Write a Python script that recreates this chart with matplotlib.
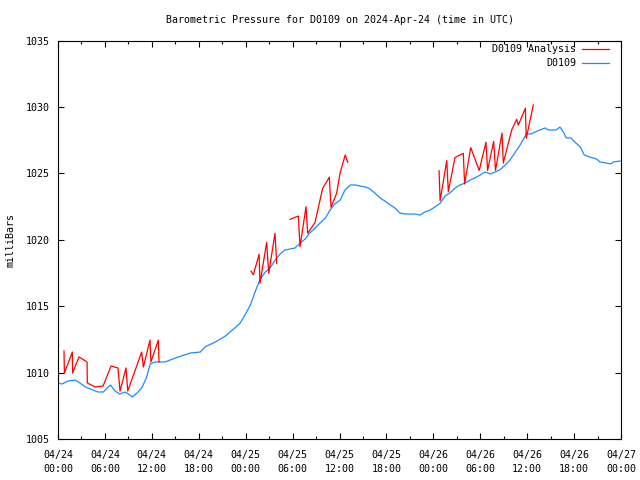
import numpy as np
import matplotlib
matplotlib.use('Agg')
import matplotlib.pyplot as plt
import matplotlib.dates as mdates
from matplotlib.lines import Line2D

# hours after 2024-04-24 00:00 UTC, pressure in mbar
obs_hours = [0.0, 0.5, 1.3, 2.2, 2.8, 3.5, 4.1, 5.1, 5.8, 6.3, 6.7, 7.3, 7.9, 8.6, 9.2, 9.5,
             10.1, 10.7, 11.3, 11.8, 12.4, 13.7, 15.0, 16.9, 18.2, 18.8, 20.1, 21.4, 22.6, 23.3,
             23.9, 24.6, 25.2, 25.8, 26.5, 27.1, 27.8, 28.4, 29.0, 29.7, 30.3, 31.0, 31.6, 32.2,
             32.9, 33.5, 34.2, 34.8, 35.4, 36.1, 36.7, 37.4, 38.0, 38.6, 39.3, 39.9, 40.5, 41.2,
             41.8, 42.5, 43.1, 43.7, 44.4, 45.0, 45.7, 46.3, 46.9, 47.6, 48.2, 48.9, 49.5, 50.1,
             50.8, 51.4, 52.1, 52.7, 53.3, 54.0, 54.6, 55.3, 55.9, 56.5, 57.2, 57.8, 58.5, 59.1,
             59.9, 60.5, 61.3, 62.3, 62.7, 63.7, 64.2, 64.7, 65.0, 65.6, 66.1, 66.8, 67.3, 68.0,
             68.9, 69.3, 70.1, 70.7, 71.0, 71.9]
obs_mbar = [1009.22, 1009.14, 1009.37, 1009.44, 1009.22, 1008.92, 1008.77, 1008.54, 1008.54,
            1008.84, 1009.07, 1008.61, 1008.39, 1008.54, 1008.31, 1008.16, 1008.46, 1008.84,
            1009.59, 1010.65, 1010.80, 1010.80, 1011.10, 1011.47, 1011.55, 1011.93, 1012.30,
            1012.75, 1013.36, 1013.73, 1014.33, 1015.09, 1016.07, 1016.97, 1017.57, 1017.87,
            1018.48, 1018.93, 1019.23, 1019.31, 1019.38, 1019.76, 1020.06, 1020.51, 1020.89,
            1021.26, 1021.64, 1022.24, 1022.70, 1023.00, 1023.75, 1024.13, 1024.13, 1024.05,
            1023.98, 1023.83, 1023.53, 1023.15, 1022.92, 1022.62, 1022.39, 1022.02, 1021.94,
            1021.94, 1021.94, 1021.86, 1022.09, 1022.24, 1022.47, 1022.77, 1023.30, 1023.52,
            1023.90, 1024.13, 1024.28, 1024.50, 1024.65, 1024.88, 1025.11, 1024.96, 1025.11,
            1025.26, 1025.63, 1026.01, 1026.61, 1027.14, 1027.97, 1027.97, 1028.19, 1028.42,
            1028.27, 1028.27, 1028.49, 1028.04, 1027.67, 1027.67, 1027.36, 1026.99, 1026.39,
            1026.23, 1026.08, 1025.86, 1025.78, 1025.71, 1025.86, 1025.93]

# analysis (nan = gap)
ana_hours = [0.77, 0.81, 1.83, 1.87, 2.69, 3.71, 3.75, 4.73, 5.76, 6.78, 7.67, 7.93, 8.70, 8.91,
             10.70, 10.91, 11.77, 11.89, 12.83, 12.92, np.nan,
             24.68, 24.98, 25.71, 25.83, 26.69, 26.95, 27.75, 27.97, np.nan,
             29.67, 30.73, 30.95, 31.72, 31.93, 32.87, 33.85, 34.70, 34.91, 35.64, 36.07, 36.74,
             37.05, np.nan,
             48.73, 48.86, 49.71, 49.92, 50.77, 51.84, 52.00, 52.78, 53.87, 54.74, 54.93, 55.72,
             55.95, 56.78, 56.95, 58.02, 58.66, 58.87, 59.77, 59.89, 60.79]
ana_mbar = [1011.63, 1009.97, 1011.55, 1009.97, 1011.18, 1010.80, 1009.22, 1008.92, 1008.99,
            1010.50, 1010.35, 1008.61, 1010.35, 1008.61, 1011.55, 1010.42, 1012.45, 1010.80,
            1012.45, 1010.80, np.nan,
            1017.63, 1017.37, 1018.91, 1016.72, 1019.81, 1017.48, 1020.49, 1018.23, np.nan,
            1021.54, 1021.79, 1019.48, 1022.49, 1020.49, 1021.30, 1023.88, 1024.71, 1022.45,
            1023.50, 1025.01, 1026.39, 1025.84, np.nan,
            1025.20, 1022.94, 1025.96, 1023.62, 1026.20, 1026.51, 1024.20, 1026.94, 1025.22,
            1027.35, 1025.22, 1027.41, 1025.23, 1028.04, 1025.78, 1028.27, 1029.07, 1028.64,
            1029.90, 1027.64, 1030.15]

start = np.datetime64('2024-04-24T00:00')


def to_time(hours):
    h = np.array(hours, dtype=float)
    t = np.full(h.shape, np.datetime64('NaT'), dtype='datetime64[m]')
    ok = ~np.isnan(h)
    t[ok] = start + (h[ok] * 60).round().astype(int).astype('timedelta64[m]')
    return t


fs = 7.2
plt.rcParams['font.family'] = 'DejaVu Sans Mono'
plt.rcParams['font.size'] = fs

fig = plt.figure(figsize=(6.4, 4.8), dpi=100)
ax = fig.add_axes([58 / 640, 1 - 439 / 480, 563 / 640, 398.4 / 480])

red = '#ff0000'
blue = '#1a8cff'
ax.plot(to_time(obs_hours), obs_mbar, color=blue, lw=0.9)
ax.plot(to_time(ana_hours), ana_mbar, color=red, lw=0.9)

ax.set_xlim(start, start + np.timedelta64(72, 'h'))
ax.set_ylim(1005, 1035)
ax.set_yticks(np.arange(1005, 1036, 5))
ax.xaxis.set_major_locator(mdates.HourLocator(byhour=[0, 6, 12, 18]))
ax.xaxis.set_minor_locator(mdates.HourLocator(byhour=[3, 9, 15, 21]))
ax.xaxis.set_major_formatter(mdates.DateFormatter('%m/%d\n%H:%M'))
for lab in ax.get_xticklabels():
    lab.set_linespacing(1.5)

ax.tick_params(which='both', direction='in', top=True, right=True, width=0.8)
ax.tick_params(which='major', length=4.5, pad=6)
ax.tick_params(axis='x', which='major', pad=8)
ax.tick_params(which='minor', length=2.5)
for s in ax.spines.values():
    s.set_linewidth(0.8)

ax.set_ylabel('milliBars', labelpad=7)
ax.set_title('Barometric Pressure for D0109 on 2024-Apr-24 (time in UTC)', fontsize=fs, pad=13)

# gnuplot style key: right aligned text, sample to the right
for i, (name, c) in enumerate([('D0109 Analysis', red), ('D0109', blue)]):
    y = 0.978 - i * 0.035
    ax.text(0.920, y, name, transform=ax.transAxes, ha='right', va='center')
    ax.add_line(Line2D([0.931, 0.979], [y, y], transform=ax.transAxes, color=c, lw=0.9))

fig.savefig('out.png', dpi=100)
